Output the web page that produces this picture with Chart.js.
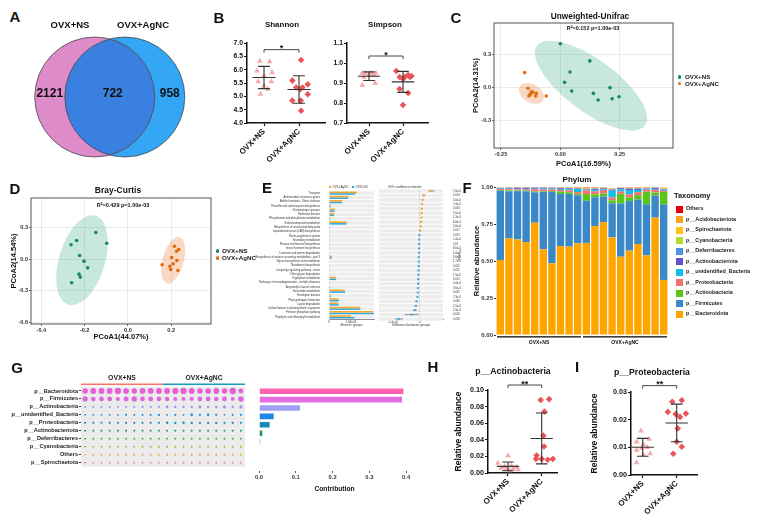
<!DOCTYPE html>
<html>
<head>
<meta charset="utf-8">
<title>Gut microbiota figure</title>
<script src="https://cdn.jsdelivr.net/npm/chart.js@4.4.1/dist/chart.umd.min.js"></script>
<style>
  body { margin:0; width:763px; height:518px; position:relative; overflow:hidden; background:#fff;
         font-family:"Liberation Sans", Arial, sans-serif; }
  .box { position:absolute; }
  .t { position:absolute; white-space:nowrap; font-weight:bold; color:#111; line-height:1; transform:translate(-50%,-50%); }
  .l { position:absolute; white-space:nowrap; font-weight:bold; color:#222; line-height:1; transform:translate(0,-50%); }
  .sw { position:absolute; }
</style>
</head>
<body>
<script>
// ---------------- data ----------------
var groups = ['OVX+NS', 'OVX+AgNC'];

// A: venn (NS only, shared, AgNC only)
var vennCounts = [2121, 722, 958];

// B: alpha diversity
var shannonNS = [6.32, 6.30, 5.96, 5.89, 5.76, 5.55, 5.55, 5.39, 5.08, 5.27];
var shannonAg = [6.36, 5.59, 5.45, 5.33, 5.33, 5.27, 4.84, 4.84, 5.08, 4.46];
var simpsonNS = [0.95, 0.95, 0.94, 0.94, 0.95, 0.93, 0.94, 0.89, 0.90, 0.95];
var simpsonAg = [0.96, 0.93, 0.93, 0.94, 0.935, 0.92, 0.87, 0.85, 0.79, 0.93];
// horizontal jitter of dots (x units)
var shannonJitNS = [-0.12, 0.16, -0.2, 0.23, 0, -0.17, 0.21, 0, -0.1, 0.11];
var shannonJitAg = [0.06, -0.19, 0.25, -0.08, 0.1, 0.03, -0.19, 0.05, 0.25, 0.06];
var simpsonJitNS = [-0.2, -0.1, 0, 0.1, 0.2, -0.15, 0.15, -0.2, 0.18, 0.05];
var simpsonJitAg = [-0.2, -0.1, 0.05, 0.15, 0.25, 0, -0.1, 0.15, 0, 0.2];

// C: unweighted unifrac PCoA
var unifracNSx = [0.000, 0.124, 0.041, 0.018, 0.048, 0.139, 0.159, 0.209, 0.218, 0.247];
var unifracNSy = [0.394, 0.239, 0.139, 0.045, -0.033, -0.055, -0.115, -0.003, -0.103, -0.085];
var unifracAgx = [-0.150, -0.136, -0.122, -0.129, -0.132, -0.101, -0.104, -0.059, -0.115, -0.125];
var unifracAgy = [0.133, -0.009, -0.039, -0.070, -0.079, -0.055, -0.079, -0.079, -0.045, -0.060];
var unifracCenters = [[0.129, 0.015], [-0.122, -0.055]];

// D: bray-curtis PCoA
var brayNSx = [-0.148, -0.098, -0.237, -0.263, -0.223, -0.203, -0.186, -0.226, -0.220, -0.260];
var brayNSy = [0.254, 0.152, 0.178, 0.137, 0.035, -0.019, -0.083, -0.143, -0.171, -0.225];
var brayAgx = [0.215, 0.235, 0.225, 0.202, 0.226, 0.209, 0.158, 0.194, 0.198, 0.231];
var brayAgy = [0.124, 0.092, 0.076, 0.016, -0.013, -0.044, -0.054, -0.067, -0.098, -0.108];
var brayCenters = [[-0.212, -0.01], [0.209, -0.01]];

// E: KEGG pathways, STAMP
var pathNames = ['Transport', 'Antimicrobial resistance genes', 'Biofilm formation - Vibrio cholerae',
  'Penicillin and cephalosporin biosynthesis', 'Glutamatergic synapse', 'Parkinson disease',
  'Phosphonate and phosphinate metabolism', 'Selenocompound metabolism', 'Biosynthesis of unsaturated fatty acids',
  'Lipoarabinomannan (LAM) biosynthesis', 'Renin-angiotensin system', 'Secondary metabolism',
  'Flavone and flavonol biosynthesis', 'Insect hormone biosynthesis', 'Limonene and pinene degradation',
  'Biosynthesis of various secondary metabolites - part 3', 'Glycan biosynthesis and metabolism', 'Novobiocin biosynthesis',
  'Longevity regulating pathway - worm', 'Other glycan degradation', 'Tryptophan metabolism',
  'Pathways of neurodegeneration - multiple diseases', 'Amyotrophic lateral sclerosis', 'Nucleotide metabolism',
  'Huntington disease', 'Plant-pathogen interaction', 'Lysine degradation',
  'Carbon fixation in photosynthetic organisms', 'Pentose phosphate pathway', 'Porphyrin and chlorophyll metabolism'];
var meanAg = [0.00636, 0.00447, 0.00303, 0.00045, 0.00136, 0.00121, 0.00030, 0.00402, 0.00008, 0.00008,
  0.00007, 0.00006, 0.00006, 0.00006, 0.00014, 0.00062, 0.00012, 0.00012, 0.00014, 0.00012,
  0.00159, 0.00014, 0.00021, 0.00358, 0.00038, 0.00214, 0.00207, 0.00697, 0.01000, 0.00500];
var meanNS = [0.00592, 0.00432, 0.00292, 0.00036, 0.00128, 0.00114, 0.00023, 0.00396, 0.00003, 0.00006,
  0.00008, 0.00007, 0.00008, 0.00008, 0.00016, 0.00066, 0.00016, 0.00016, 0.00019, 0.00017,
  0.00165, 0.00020, 0.00028, 0.00365, 0.00046, 0.00226, 0.00221, 0.00715, 0.01030, 0.00578];
var diffs = [4.35e-4, 1.53e-4, 1.06e-4, 9.4e-5, 8.2e-5, 7.1e-5, 7.1e-5, 5.9e-5, 4.7e-5, 2.4e-5,
  -1.2e-5, -1.2e-5, -2.4e-5, -2.4e-5, -2.4e-5, -3.5e-5, -3.5e-5, -3.5e-5, -4.7e-5, -4.7e-5,
  -5.9e-5, -5.9e-5, -7.1e-5, -7.1e-5, -8.2e-5, -1.18e-4, -1.41e-4, -1.76e-4, -3.06e-4, -7.76e-4];
var diffCi = [1.2e-4, 6e-5, 4e-5, 3e-5, 3e-5, 3e-5, 2e-5, 3e-5, 2e-5, 2e-5,
  2e-5, 2e-5, 2e-5, 2e-5, 2e-5, 2e-5, 2e-5, 2e-5, 2e-5, 2e-5,
  3e-5, 2e-5, 2e-5, 3e-5, 3e-5, 5e-5, 6e-5, 8e-5, 2.6e-4, 1.5e-4];
var pValues = ['7.0e-03', '0.013', '5.0e-03', '7.4e-03', '0.003', '3.5e-03', '1.3e-03', '6.0e-03', '2.0e-04', '0.017',
  '0.013', '2.4e-03', '0.01', '8.6e-03', '6.4e-03', '6.6e-03', '1.7e-03', '0.015', '0.015', '1.5e-03',
  '0.015', '3.4e-03', '3.6e-03', '0.032', '7.3e-03', '0.036', '2.1e-03', '2.0e-03', '0.016', '0.018'];

// F: phylum relative abundance, 20 samples
var samples = ['NS1','NS2','NS3','NS4','NS5','NS6','NS7','NS8','NS9','NS10',
  'Ag1','Ag2','Ag3','Ag4','Ag5','Ag6','Ag7','Ag8','Ag9','Ag10'];
var sampleGroup = [0,0,0,0,0,0,0,0,0,0, 1,1,1,1,1,1,1,1,1,1];
var bacteroidota = [0.507,0.653,0.646,0.628,0.759,0.579,0.484,0.601,0.597,0.619, 0.622,0.736,0.761,0.660,0.529,0.570,0.615,0.538,0.793,0.372];
var firmicutes = [0.468,0.318,0.326,0.343,0.205,0.388,0.483,0.352,0.356,0.325, 0.285,0.195,0.175,0.230,0.360,0.335,0.300,0.345,0.150,0.510];
var actinobacteria = [0.004,0.006,0.005,0.004,0.006,0.004,0.006,0.015,0.012,0.010, 0.045,0.020,0.020,0.020,0.065,0.025,0.030,0.085,0.020,0.085];
var proteobacteria = [0.008,0.008,0.006,0.008,0.014,0.012,0.010,0.012,0.012,0.012, 0.025,0.020,0.025,0.020,0.015,0.020,0.020,0.012,0.018,0.008];
var unidentifiedBacteria = [0.003,0.004,0.004,0.004,0.004,0.006,0.006,0.006,0.008,0.020, 0.004,0.010,0.004,0.045,0.015,0.030,0.015,0.004,0.006,0.006];
var actinobacteriota = [0.003,0.004,0.006,0.006,0.006,0.006,0.005,0.006,0.006,0.004, 0.004,0.006,0.006,0.006,0.008,0.008,0.008,0.004,0.006,0.004];
var deferribacteres = [0.002,0.002,0.002,0.002,0.002,0.002,0.002,0.002,0.003,0.002, 0.002,0.003,0.003,0.003,0.003,0.003,0.003,0.003,0.003,0.002];
var cyanobacteria = [0.001,0.001,0.001,0.001,0.001,0.001,0.001,0.002,0.002,0.002, 0.003,0.002,0.002,0.002,0.002,0.002,0.002,0.002,0.002,0.002];
var spirochaetota = [0.001,0.001,0.001,0.001,0.001,0.001,0.001,0.002,0.002,0.002, 0.003,0.002,0.002,0.002,0.002,0.002,0.002,0.002,0.002,0.002];
var acidobacteriota = [0.001,0.002,0.002,0.002,0.001,0.001,0.001,0.001,0.002,0.002, 0.002,0.002,0.002,0.002,0.002,0.002,0.002,0.002,0.002,0.002];
var others = [0.000,0.001,0.001,0.001,0.001,0.001,0.001,0.001,0.002,0.002, 0.003,0.002,0.002,0.002,0.002,0.002,0.002,0.002,0.002,0.002];
var taxa = ['p__Bacteroidota','p__Firmicutes','p__Actinobacteria','p__Proteobacteria','p__unidentified_Bacteria',
  'p__Actinobacteriota','p__Deferribacteres','p__Cyanobacteria','p__Spirochaetota','p__Acidobacteriota','Others'];
var taxaValues = [bacteroidota, firmicutes, actinobacteria, proteobacteria, unidentifiedBacteria,
  actinobacteriota, deferribacteres, cyanobacteria, spirochaetota, acidobacteriota, others];
var taxaColors = ['#FFA500','#3A88C8','#5BC61A','#F07272','#12BFE6','#6A50C8','#4E90E2','#B4DC30','#FFC20E','#FFA21A','#E8000B'];

// G: contribution of phyla
var gRows = ['p__Bacteroidota','p__Firmicutes','p__Actinobacteria','p__unidentified_Bacteria','p__Proteobacteria',
  'p__Actinobacteriota','p__Deferribacteres','p__Cyanobacteria','Others','p__Spirochaetota'];
var gValues = [bacteroidota, firmicutes, actinobacteria, unidentifiedBacteria, proteobacteria,
  actinobacteriota, deferribacteres, cyanobacteria, others, spirochaetota];
var contribution = [0.395, 0.391, 0.114, 0.042, 0.031, 0.011, 0.005, 0.002, 0.001, 0.0005];
var gDotColors = ['#E75FD6','#E064E0','#9A93F0','#1E8FE6','#1A8EC2','#159E6A','#3DAF3D','#A5AE22','#E2A42A','#F2836F'];
var gBarColors = ['#FF62AE','#E46DE2','#A09EF5','#1E88E8','#168FB8','#14985A','#3DB73D','#C9C34A','#E8B247','#F39B8E'];

// H, I: single phyla
var actinoNS = [0.021, 0.012, 0.009, 0.008, 0.007, 0.006, 0.005, 0.005, 0.004, 0.003];
var actinoAg = [0.088, 0.089, 0.074, 0.045, 0.032, 0.021, 0.017, 0.017, 0.017, 0.016];
var proteoNS = [0.016, 0.013, 0.012, 0.011, 0.010, 0.0097, 0.009, 0.0077, 0.0073, 0.0045];
var proteoAg = [0.027, 0.0265, 0.0228, 0.0222, 0.022, 0.021, 0.0168, 0.012, 0.0102, 0.0077];
var actinoJitNS = [0, -0.3, 0.1, -0.1, 0.25, -0.2, 0.15, -0.05, 0.3, 0.05];
var actinoJitAg = [-0.03, 0.22, 0.08, 0.05, 0.07, -0.15, 0, -0.17, 0.33, 0.18];
var proteoJitNS = [-0.05, 0.19, -0.18, 0.02, 0.14, -0.03, -0.18, 0.22, 0.02, -0.18];
var proteoJitAg = [0.15, -0.13, -0.26, 0.27, -0.03, 0.1, 0.03, 0, 0.15, -0.1];

// ---------------- helpers ----------------
var FONT = '"Liberation Sans", Arial, sans-serif';
Chart.defaults.font.family = FONT;
Chart.defaults.font.weight = 'bold';
Chart.defaults.color = '#222';
Chart.defaults.animation = false;
Chart.defaults.plugins.legend.display = false;
Chart.defaults.plugins.tooltip.enabled = false;

var GREEN = '#138A64', ORANGE = '#E36B10';
var NSCOL = '#F6A7A7', AGCOL = '#E9565A';
var E_OR = '#F5A623', E_BL = '#2FA8E0';

function txt(s, x, y, size, cls, color) {
  var d = document.createElement('div');
  d.className = cls || 't';
  d.textContent = s;
  d.style.left = x + 'px';
  d.style.top = y + 'px';
  d.style.fontSize = size + 'px';
  if (color) d.style.color = color;
  document.body.appendChild(d);
  return d;
}
function swatch(x, y, w, h, color, round) {
  var d = document.createElement('div');
  d.className = 'sw';
  d.style.cssText = 'left:' + x + 'px;top:' + y + 'px;width:' + w + 'px;height:' + h + 'px;background:' + color +
    (round ? ';border-radius:50%' : '');
  document.body.appendChild(d);
}

// ca = chart area [left, top, right, bottom] in page pixels
function place(ca, yW, xH, cfg, opt) {
  opt = opt || {};
  var pt = opt.pt == null ? 6 : opt.pt, pr = opt.pr == null ? 4 : opt.pr;
  var L = opt.yRight ? ca[0] : ca[0] - yW;
  var T = ca[1] - pt;
  var W = opt.yRight ? ca[2] + yW - L : ca[2] + pr - L;
  var H = ca[3] + xH - T;
  var div = document.createElement('div');
  div.className = 'box';
  div.style.cssText = 'left:' + L + 'px;top:' + T + 'px;width:' + W + 'px;height:' + H + 'px';
  var cv = document.createElement('canvas');
  cv.width = W; cv.height = H;
  cv.style.width = W + 'px'; cv.style.height = H + 'px';
  div.appendChild(cv);
  document.body.appendChild(div);
  var o = cfg.options = cfg.options || {};
  o.responsive = false;
  o.devicePixelRatio = 1;
  o.animation = false;
  o.layout = { padding: { top: pt, right: opt.yRight ? 0 : pr, bottom: 0, left: 0 } };
  var sc = o.scales || {};
  if (sc.x && xH) sc.x.afterFit = function (s) { s.height = xH; };
  if (sc.y && yW) sc.y.afterFit = function (s) { s.width = yW; };
  return new Chart(cv, cfg);
}

function sci(v, d) {
  if (v === 0) return '0';
  var e = Math.floor(Math.log10(Math.abs(v)));
  var m = v / Math.pow(10, e);
  var es = String(Math.abs(e));
  if (es.length < 2) es = '0' + es;
  return m.toFixed(d) + 'e' + (e < 0 ? '-' : '+') + es;
}

// mean +- SD lines for the two groups
var meanSd = {
  id: 'meanSd',
  afterDatasetsDraw: function (c) {
    var ctx = c.ctx, xs = c.scales.x, ys = c.scales.y;
    c.data.datasets.forEach(function (ds, i) {
      var v = ds.data.map(function (p) { return p.y; });
      var m = v.reduce(function (a, b) { return a + b; }, 0) / v.length;
      var sd = Math.sqrt(v.reduce(function (a, b) { return a + (b - m) * (b - m); }, 0) / (v.length - 1));
      var cx = xs.getPixelForValue(i + 1);
      var hw = xs.getPixelForValue(i + 1.33) - cx, cw = xs.getPixelForValue(i + 1.17) - cx;
      var ym = ys.getPixelForValue(m), yt = ys.getPixelForValue(m + sd), yb = ys.getPixelForValue(m - sd);
      ctx.save();
      ctx.strokeStyle = '#333';
      ctx.lineWidth = 1.1;
      ctx.beginPath();
      ctx.moveTo(cx - hw, ym); ctx.lineTo(cx + hw, ym);
      ctx.moveTo(cx, yt); ctx.lineTo(cx, yb);
      ctx.moveTo(cx - cw, yt); ctx.lineTo(cx + cw, yt);
      ctx.moveTo(cx - cw, yb); ctx.lineTo(cx + cw, yb);
      ctx.stroke();
      ctx.restore();
    });
  }
};

function bracket(yVal, label) {
  return {
    id: 'bracket',
    afterDraw: function (c) {
      var ctx = c.ctx, xs = c.scales.x, ys = c.scales.y;
      var x1 = xs.getPixelForValue(1), x2 = xs.getPixelForValue(2), y = ys.getPixelForValue(yVal);
      ctx.save();
      ctx.strokeStyle = '#333';
      ctx.lineWidth = 0.9;
      ctx.beginPath();
      ctx.moveTo(x1, y + 3); ctx.lineTo(x1, y); ctx.lineTo(x2, y); ctx.lineTo(x2, y + 3);
      ctx.stroke();
      ctx.fillStyle = '#111';
      ctx.font = 'bold 9px ' + FONT;
      ctx.textAlign = 'center';
      ctx.textBaseline = 'alphabetic';
      ctx.fillText(label, (x1 + x2) / 2, y + 1.5);
      ctx.restore();
    }
  };
}

function dotChart(ca, yW, nsVals, agVals, nsJit, agJit, xr, yr, yStep, yDec, br, yTitle, tickFs, pt) {
  var prism = { drawOnChartArea: false, tickLength: 3, tickColor: '#111', tickWidth: 1.2 };
  var cfg = {
    type: 'scatter',
    data: { datasets: [
      { data: nsVals.map(function (v, i) { return { x: 1 + nsJit[i], y: v }; }),
        pointStyle: 'triangle', pointRadius: 3.3, backgroundColor: NSCOL, borderWidth: 0, clip: false },
      { data: agVals.map(function (v, i) { return { x: 2 + agJit[i], y: v }; }),
        pointStyle: 'rectRot', pointRadius: 3.3, backgroundColor: AGCOL, borderWidth: 0, clip: false }
    ] },
    options: {
      scales: {
        x: { type: 'linear', min: xr[0], max: xr[1],
          afterBuildTicks: function (s) { s.ticks = [{ value: 1 }, { value: 2 }]; },
          ticks: { callback: function (v) { return groups[Math.round(v) - 1]; }, minRotation: 45, maxRotation: 45,
            color: '#111', font: { size: 8 }, padding: 1 },
          grid: prism, border: { color: '#111', width: 1.5 } },
        y: { type: 'linear', min: yr[0], max: yr[1],
          afterBuildTicks: function (s) {
            var t = [];
            for (var k = 0; yr[0] + k * yStep <= yr[1] + 1e-9; k++) t.push({ value: +(yr[0] + k * yStep).toFixed(6) });
            s.ticks = t;
          },
          ticks: { callback: function (v) { return v.toFixed(yDec); }, color: '#111', font: { size: tickFs }, padding: 1 },
          grid: prism, border: { color: '#111', width: 1.5 },
          title: { display: !!yTitle, text: yTitle || '', color: '#111', font: { size: 8.5 }, padding: { top: 3.9, bottom: 0 } } }
      }
    },
    plugins: [meanSd, bracket(br[0], br[1])]
  };
  return place(ca, yW, 40, cfg, { pt: pt || 6 });
}

var frame = {
  id: 'frame',
  afterDraw: function (c) {
    var a = c.chartArea, ctx = c.ctx;
    ctx.save();
    ctx.strokeStyle = '#555';
    ctx.lineWidth = 1;
    ctx.strokeRect(a.left, a.top, a.right - a.left, a.bottom - a.top);
    ctx.restore();
  }
};

function ellipses(centers, shapes) {
  return {
    id: 'ellipses',
    beforeDatasetsDraw: function (c) {
      var ctx = c.ctx;
      centers.forEach(function (cn, i) {
        var s = shapes[i];
        ctx.save();
        ctx.fillStyle = s.color;
        ctx.beginPath();
        ctx.ellipse(c.scales.x.getPixelForValue(cn[0]), c.scales.y.getPixelForValue(cn[1]), s.a, s.b,
          s.angle * Math.PI / 180, 0, 2 * Math.PI);
        ctx.fill();
        ctx.restore();
      });
    }
  };
}

function pcoa(ca, yW, xH, nsX, nsY, agX, agY, centers, shapes, xr, yr, xt, yt, xDec, yDec, xTitle, yTitle, xPad, yPad) {
  var grid = { color: '#E6E6E6', lineWidth: 0.8, tickLength: 2, tickColor: '#444' };
  var cfg = {
    type: 'scatter',
    data: { datasets: [
      { data: nsX.map(function (v, i) { return { x: v, y: nsY[i] }; }), pointRadius: 1.8, backgroundColor: GREEN, borderWidth: 0 },
      { data: agX.map(function (v, i) { return { x: v, y: agY[i] }; }), pointRadius: 1.8, backgroundColor: ORANGE, borderWidth: 0 }
    ] },
    options: {
      scales: {
        x: { type: 'linear', min: xr[0], max: xr[1],
          afterBuildTicks: function (s) { s.ticks = xt.map(function (v) { return { value: v }; }); },
          ticks: { callback: function (v) { return v.toFixed(xDec); }, font: { size: 5.6 }, color: '#333', padding: 1 },
          grid: grid, border: { display: false },
          title: { display: true, text: xTitle, font: { size: 7.5 }, color: '#111', padding: { top: 0, bottom: xPad } } },
        y: { type: 'linear', min: yr[0], max: yr[1],
          afterBuildTicks: function (s) { s.ticks = yt.map(function (v) { return { value: v }; }); },
          ticks: { callback: function (v) { return v.toFixed(yDec); }, font: { size: 5.6 }, color: '#333', padding: 1 },
          grid: grid, border: { display: false },
          title: { display: true, text: yTitle, font: { size: 7.5 }, color: '#111', padding: { top: yPad, bottom: 0 } } }
      }
    },
    plugins: [ellipses(centers, shapes), frame]
  };
  return place(ca, yW, xH, cfg);
}

// ---------------- A: venn ----------------
var venn = {
  id: 'venn',
  afterDatasetsDraw: function (c) {
    var ctx = c.ctx;
    var a = c.getDatasetMeta(0).data[0], b = c.getDatasetMeta(1).data[0];
    var r = a.options.radius;
    ctx.save();
    ctx.beginPath(); ctx.arc(a.x, a.y, r, 0, 2 * Math.PI); ctx.clip();
    ctx.fillStyle = '#3A80E1';
    ctx.beginPath(); ctx.arc(b.x, b.y, r, 0, 2 * Math.PI); ctx.fill();
    ctx.restore();
    ctx.save();
    ctx.strokeStyle = '#4a4a4a';
    ctx.lineWidth = 0.8;
    [a, b].forEach(function (e) { ctx.beginPath(); ctx.arc(e.x, e.y, r, 0, 2 * Math.PI); ctx.stroke(); });
    ctx.fillStyle = '#111';
    ctx.font = 'bold 12px ' + FONT;
    ctx.textAlign = 'center';
    ctx.textBaseline = 'middle';
    ctx.fillText(String(vennCounts[0]), (a.x - r + b.x - r) / 2, a.y - 3);
    ctx.fillText(String(vennCounts[1]), (a.x + b.x) / 2 + 3, a.y - 3);
    ctx.fillText(String(vennCounts[2]), (a.x + r + b.x + r) / 2, a.y - 3);
    ctx.restore();
  }
};
place([0, 30, 216, 164], 0, 0, {
  type: 'bubble',
  data: { datasets: [
    { label: groups[0], data: [{ x: 0, y: 0, r: 60 }], backgroundColor: '#DE8BC9', borderWidth: 0, clip: false },
    { label: groups[1], data: [{ x: 1, y: 0, r: 60 }], backgroundColor: '#33A6F5', borderWidth: 0, clip: false }
  ] },
  options: { scales: {
    x: { type: 'linear', display: false, min: -75 / 65, max: -75 / 65 + 216 / 65 },
    y: { type: 'linear', display: false, min: -1, max: 1 }
  } },
  plugins: [venn]
}, { pt: 0, pr: 4 });

// ---------------- B ----------------
dotChart([247, 43, 325, 123], 32, shannonNS, shannonAg, shannonJitNS, shannonJitAg,
  [0.514, 2.743], [4.0, 7.0], 0.5, 1, [6.75, '*'], null, 6.8);
dotChart([347, 43, 428, 123], 32, simpsonNS, simpsonAg, simpsonJitNS, simpsonJitAg,
  [0.353, 2.735], [0.7, 1.1], 0.1, 1, [1.035, '*'], null, 6.8);

// ---------------- C ----------------
pcoa([494, 23, 673, 148], 28, 24, unifracNSx, unifracNSy, unifracAgx, unifracAgy, unifracCenters,
  [{ a: 67, b: 26, angle: 36.5, color: 'rgba(27,158,119,0.24)' }, { a: 13.5, b: 9, angle: 30, color: 'rgba(240,130,60,0.3)' }],
  [-0.279, 0.474], [-0.549, 0.582], [-0.25, 0, 0.25], [-0.3, 0, 0.3], 2, 1,
  'PCoA1(16.59%)', 'PCoA2(14.31%)', 3.5, 5.5);

// ---------------- D ----------------
pcoa([31, 198, 211, 324], 27, 22, brayNSx, brayNSy, brayAgx, brayAgy, brayCenters,
  [{ a: 46.5, b: 23, angle: -73, color: 'rgba(27,158,119,0.24)' }, { a: 24, b: 10.6, angle: -75, color: 'rgba(240,130,60,0.3)' }],
  [-0.448, 0.384], [-0.619, 0.584], [-0.4, -0.2, 0, 0.2], [-0.6, -0.3, 0, 0.3], 1, 1,
  'PCoA1(44.07%)', 'PCoA2(14.54%)', 4.5, 5.5);

// ---------------- E ----------------
function stripes(color) {
  return {
    id: 'stripes',
    beforeDatasetsDraw: function (c) {
      var a = c.chartArea, ys = c.scales.y, ctx = c.ctx;
      var h = (ys.getPixelForValue(1) - ys.getPixelForValue(0)) * 0.78;
      ctx.save();
      ctx.fillStyle = color;
      for (var i = 0; i < pathNames.length; i++) {
        ctx.fillRect(a.left, ys.getPixelForValue(i) - h / 2, a.right - a.left, h);
      }
      ctx.restore();
    }
  };
}
var tiny = { size: 2.7, weight: 'normal' };
place([329, 191, 374, 319], 79, 10, {
  type: 'bar',
  data: { labels: pathNames, datasets: [
    { label: groups[1], data: meanAg, backgroundColor: E_OR },
    { label: groups[0], data: meanNS, backgroundColor: E_BL }
  ] },
  options: {
    indexAxis: 'y',
    datasets: { bar: { barPercentage: 0.9, categoryPercentage: 0.8 } },
    scales: {
      y: { ticks: { autoSkip: false, font: tiny, color: '#333', padding: 1 }, grid: { display: false }, border: { display: false } },
      x: { type: 'linear', min: 0, max: 0.01023,
        afterBuildTicks: function (s) { s.ticks = [{ value: 0 }, { value: 0.005 }]; },
        ticks: { callback: function (v) { return sci(v, 2); }, font: tiny, color: '#333', padding: 0.5 },
        grid: { drawOnChartArea: false, tickLength: 1.5, tickColor: '#444', tickWidth: 0.6 },
        border: { color: '#444', width: 0.6 },
        title: { display: true, text: 'Mean in groups', font: { size: 3.2, weight: 'normal' }, color: '#333', padding: { top: 0, bottom: 2 } } }
    }
  },
  plugins: [stripes('#EDEDED')]
});

var zeroLine = {
  id: 'zeroLine',
  beforeDatasetsDraw: function (c) {
    var a = c.chartArea, ctx = c.ctx, x = c.scales.x.getPixelForValue(0);
    ctx.save();
    ctx.strokeStyle = '#999';
    ctx.lineWidth = 0.5;
    ctx.setLineDash([1, 1]);
    ctx.beginPath(); ctx.moveTo(x, a.top); ctx.lineTo(x, a.bottom); ctx.stroke();
    ctx.restore();
  }
};
var eCi = {
  id: 'eCi',
  beforeDatasetsDraw: function (c) {
    var xs = c.scales.x, ys = c.scales.y, ctx = c.ctx;
    ctx.save();
    ctx.strokeStyle = '#555';
    ctx.lineWidth = 0.6;
    diffs.forEach(function (d, i) {
      var y = ys.getPixelForValue(i);
      ctx.beginPath();
      ctx.moveTo(xs.getPixelForValue(d - diffCi[i]), y);
      ctx.lineTo(xs.getPixelForValue(d + diffCi[i]), y);
      ctx.stroke();
    });
    ctx.restore();
  }
};
place([375, 191, 443, 319], 18, 10, {
  type: 'line',
  data: { labels: pathNames, datasets: [{
    data: diffs, showLine: false, pointRadius: 1.1, borderWidth: 0,
    pointBackgroundColor: diffs.map(function (d) { return d > 0 ? E_OR : E_BL; })
  }] },
  options: {
    indexAxis: 'y',
    scales: {
      x: { type: 'linear', min: -0.00152, max: 0.000873,
        afterBuildTicks: function (s) { s.ticks = [{ value: -0.001 }, { value: 0 }]; },
        ticks: { callback: function (v) { return sci(v, 1); }, font: tiny, color: '#333', padding: 0.5 },
        grid: { drawOnChartArea: false, tickLength: 1.5, tickColor: '#444', tickWidth: 0.6 },
        border: { color: '#444', width: 0.6 },
        title: { display: true, text: 'Difference between groups', font: { size: 3.2, weight: 'normal' }, color: '#333', padding: { top: 0, bottom: 2 } } },
      y: { type: 'category', position: 'right',
        ticks: { autoSkip: false, callback: function (v, i) { return pValues[i]; }, font: tiny, color: '#333', padding: 2 },
        grid: { display: false }, border: { display: false },
        title: { display: true, text: 'P-value', font: { size: 3.2, weight: 'normal' }, color: '#333', padding: { top: 0, bottom: 0 } } }
    }
  },
  plugins: [stripes('#EDEDED'), zeroLine, eCi]
}, { yRight: true });

// ---------------- F ----------------
var fGroups = {
  id: 'fGroups',
  afterDraw: function (c) {
    var a = c.chartArea, ctx = c.ctx, xs = c.scales.x;
    var half = (xs.getPixelForValue(1) - xs.getPixelForValue(0)) / 2;
    ctx.save();
    groups.forEach(function (g, gi) {
      var idx = [];
      sampleGroup.forEach(function (s, i) { if (s === gi) idx.push(i); });
      var x0 = xs.getPixelForValue(idx[0]) - half + 1, x1 = xs.getPixelForValue(idx[idx.length - 1]) + half - 1;
      ctx.fillStyle = '#111';
      ctx.fillRect(x0, a.bottom + 1.2, x1 - x0, 1.3);
      ctx.font = 'bold 5px ' + FONT;
      ctx.textAlign = 'center';
      ctx.textBaseline = 'middle';
      ctx.fillText(g, (x0 + x1) / 2, a.bottom + 8);
    });
    ctx.restore();
  }
};
place([496, 187, 668, 335], 30, 14, {
  type: 'bar',
  data: { labels: samples, datasets: taxa.map(function (t, i) {
    return { label: t, data: taxaValues[i], backgroundColor: taxaColors[i], borderWidth: 0 };
  }) },
  options: {
    datasets: { bar: { barPercentage: 0.86, categoryPercentage: 1 } },
    scales: {
      x: { stacked: true, ticks: { display: false }, grid: { display: false }, border: { display: false } },
      y: { stacked: true, min: 0, max: 1,
        afterBuildTicks: function (s) { s.ticks = [0, 0.25, 0.5, 0.75, 1].map(function (v) { return { value: v }; }); },
        ticks: { callback: function (v) { return v.toFixed(2); }, font: { size: 6 }, color: '#333', padding: 1 },
        grid: { drawOnChartArea: false, tickLength: 2, tickColor: '#333' }, border: { display: false },
        title: { display: true, text: 'Relative abundance', font: { size: 7.5 }, color: '#111', padding: { top: 6.2, bottom: 0 } } }
    }
  },
  plugins: [fGroups]
});

// ---------------- G ----------------
var gPanel = {
  id: 'gPanel',
  beforeDatasetsDraw: function (c) {
    var a = c.chartArea, ctx = c.ctx;
    ctx.save();
    ctx.fillStyle = '#EBEBEB';
    ctx.fillRect(a.left, a.top, a.right - a.left, a.bottom - a.top);
    ctx.restore();
  },
  afterDraw: function (c) {
    var a = c.chartArea, ctx = c.ctx, xs = c.scales.x;
    var cols = ['#F8766D', '#1F9BB5'];
    ctx.save();
    groups.forEach(function (g, gi) {
      var idx = [];
      sampleGroup.forEach(function (s, i) { if (s === gi) idx.push(i + 1); });
      var x0 = xs.getPixelForValue(idx[0] - 0.5), x1 = xs.getPixelForValue(idx[idx.length - 1] + 0.5);
      ctx.fillStyle = cols[gi];
      ctx.fillRect(x0, a.top - 3.5, x1 - x0, 1.6);
      ctx.fillStyle = '#222';
      ctx.font = 'bold 6.8px ' + FONT;
      ctx.textAlign = 'center';
      ctx.textBaseline = 'middle';
      ctx.fillText(g, (x0 + x1) / 2, a.top - 9);
    });
    ctx.restore();
  }
};
function dotR(v) { return 0.8 + 2.4 * Math.sqrt(v / 0.8); }
place([81, 387, 245, 471], 81, 0, {
  type: 'bubble',
  data: { datasets: gRows.map(function (name, ri) {
    return { label: name, backgroundColor: gDotColors[ri], borderWidth: 0,
      data: gValues[ri].map(function (v, ci) { return { x: ci + 1, y: ri + 1, r: dotR(v) }; }) };
  }) },
  options: {
    scales: {
      x: { type: 'linear', display: false, min: 0.5, max: samples.length + 0.5 },
      y: { type: 'linear', min: 0.5, max: gRows.length + 0.5, reverse: true,
        afterBuildTicks: function (s) { s.ticks = gRows.map(function (r, i) { return { value: i + 1 }; }); },
        ticks: { autoSkip: false, callback: function (v) { return gRows[v - 1]; }, font: { size: 5.6 }, color: '#222', padding: 1 },
        grid: { drawOnChartArea: false, tickLength: 2, tickColor: '#333' }, border: { display: false } }
    }
  },
  plugins: [gPanel]
}, { pt: 16 });

place([254, 387, 410, 471], 0, 24, {
  type: 'bar',
  data: { labels: gRows, datasets: [{ data: contribution, backgroundColor: gBarColors,
    borderColor: 'rgba(255,255,255,0.7)', borderWidth: 0.8 }] },
  options: {
    indexAxis: 'y',
    datasets: { bar: { barPercentage: 0.86, categoryPercentage: 1 } },
    scales: {
      y: { display: false },
      x: { type: 'linear', min: 0, max: 0.4105,
        afterBuildTicks: function (s) { s.ticks = [0, 0.1, 0.2, 0.3, 0.4].map(function (v) { return { value: v }; }); },
        ticks: { callback: function (v) { return v.toFixed(1); }, font: { size: 5.8 }, color: '#333', padding: 1 },
        grid: { drawOnChartArea: false, tickLength: 2, tickColor: '#555' }, border: { display: false },
        title: { display: true, text: 'Contribution', font: { size: 6.7 }, color: '#111', padding: { top: 0, bottom: 2 } } }
    }
  }
});

// ---------------- H, I ----------------
dotChart([488, 390, 557, 473], 38, actinoNS, actinoAg, actinoJitNS, actinoJitAg,
  [0.407, 2.454], [0, 0.10], 0.02, 2, [0.106, '**'], 'Relative abundance', 7.2, 14);
dotChart([631, 392, 697, 475], 45, proteoNS, proteoAg, proteoJitNS, proteoJitAg,
  [0.656, 2.597], [0, 0.03], 0.01, 2, [0.0323, '**'], 'Relative abundance', 7.2, 14);

// ---------------- text: letters, titles, legends ----------------
[['A', 15, 16], ['B', 219, 17], ['C', 456, 17], ['D', 15, 188], ['E', 267, 187],
 ['F', 467, 187], ['G', 17, 367], ['H', 433, 366], ['I', 577, 366]].forEach(function (p) {
  txt(p[0], p[1], p[2], 15);
});
txt(groups[0], 70, 25, 9.5);
txt(groups[1], 143, 25, 9.5);
txt('Shannon', 282, 25, 8);
txt('Simpson', 385, 25, 8);
txt('Unweighted-Unifrac', 590, 16, 8.3);
txt('R\u00b2=0.152 p=1.00e-03', 593, 29, 5.5);
txt('Bray-Curtis', 118, 190, 8.5);
txt('R\u00b2=0.429 p=1.00e-03', 123, 206, 5.5);
txt('Phylum', 577, 180, 8);
txt('p__Actinobacteria', 513, 371, 8.7);
txt('p__Proteobacteria', 652, 372, 8.7);

// C / D legends
[[GREEN, groups[0]], [ORANGE, groups[1]]].forEach(function (it, i) {
  swatch(677.5, 75 + i * 6.6, 3.6, 3.6, it[0], true);
  txt(it[1], 685, 77 + i * 6.6, 6.2, 'l');
  swatch(215.5, 249 + i * 7.2, 3.6, 3.6, it[0], true);
  txt(it[1], 222, 251 + i * 7.2, 6.2, 'l');
});

// E header
swatch(329, 186, 2.2, 2.2, E_OR);
txt(groups[1], 332.5, 187.2, 3, 'l', '#333').style.fontWeight = 'normal';
swatch(352, 186, 2.2, 2.2, E_BL);
txt(groups[0], 355.5, 187.2, 3, 'l', '#333').style.fontWeight = 'normal';
txt('95% confidence intervals', 405, 187.2, 3, 't', '#333').style.fontWeight = 'normal';

// F legend
txt('Taxonomy', 674, 196, 7.4, 'l', '#111');
var legendOrder = ['Others', 'p__Acidobacteriota', 'p__Spirochaetota', 'p__Cyanobacteria', 'p__Deferribacteres',
  'p__Actinobacteriota', 'p__unidentified_Bacteria', 'p__Proteobacteria', 'p__Actinobacteria', 'p__Firmicutes', 'p__Bacteroidota'];
legendOrder.forEach(function (name, i) {
  var y = 209.3 + i * 10.47;
  swatch(676, y - 3.5, 7, 7, taxaColors[taxa.indexOf(name)]);
  txt(name, 686, y, 5.4, 'l');
});
</script>
</body>
</html>
